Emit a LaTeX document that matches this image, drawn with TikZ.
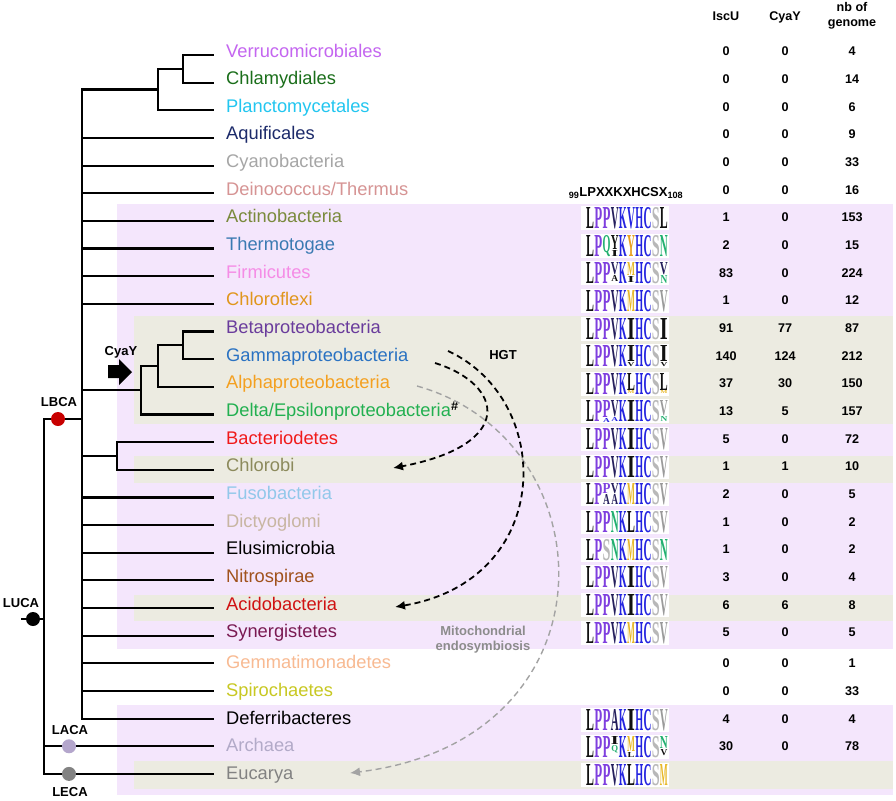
\documentclass[tikz,border=0pt]{standalone}
\usepackage{fontspec}
\usepackage{graphicx}
\setmainfont{Liberation Sans}
\newfontfamily\logofont{Liberation Serif}[BoldFont={* Bold}]
\usetikzlibrary{arrows.meta}
\definecolor{bglav}{HTML}{F4E6FC}
\definecolor{bgbei}{HTML}{ECEBE1}
\definecolor{cVer}{HTML}{C466F0}
\definecolor{cChl}{HTML}{1A6E1A}
\definecolor{cPla}{HTML}{22C6F0}
\definecolor{cAqu}{HTML}{1C2A6A}
\definecolor{cCya}{HTML}{A6A6A6}
\definecolor{cDei}{HTML}{D69494}
\definecolor{cAct}{HTML}{7A8A3C}
\definecolor{cThe}{HTML}{3A7AB2}
\definecolor{cFir}{HTML}{F48CE6}
\definecolor{cChf}{HTML}{E0961C}
\definecolor{cBet}{HTML}{6A3C9C}
\definecolor{cGam}{HTML}{2A72C2}
\definecolor{cAlp}{HTML}{F4A020}
\definecolor{cDel}{HTML}{22B050}
\definecolor{cBac}{HTML}{F01A1A}
\definecolor{cCho}{HTML}{8C8A5C}
\definecolor{cFus}{HTML}{92C8EA}
\definecolor{cDic}{HTML}{C8B6A2}
\definecolor{cElu}{HTML}{000000}
\definecolor{cNit}{HTML}{A0521C}
\definecolor{cAci}{HTML}{D01212}
\definecolor{cSyn}{HTML}{7A1A52}
\definecolor{cGem}{HTML}{F8BA92}
\definecolor{cSpi}{HTML}{C8C822}
\definecolor{cDef}{HTML}{000000}
\definecolor{cArc}{HTML}{B2AAC8}
\definecolor{cEuc}{HTML}{828282}
\definecolor{lck}{HTML}{111111}
\definecolor{lcp}{HTML}{7F3FDF}
\definecolor{lcd}{HTML}{241E5C}
\definecolor{lcb}{HTML}{2424E0}
\definecolor{lcg}{HTML}{B8B8B8}
\definecolor{lcv}{HTML}{9A9A9A}
\definecolor{lcn}{HTML}{22B070}
\definecolor{lcm}{HTML}{E8B828}
\definecolor{lcy}{HTML}{EAA020}
\definecolor{mitogray}{HTML}{8C8C8C}
\definecolor{dotlav}{HTML}{B4A6CC}
\definecolor{dotred}{HTML}{C80000}
\newcommand\logorow[3]{%
  \fill[white] (581,#2-11) rectangle (669,#2+13);
  \foreach \ch/\co/\hh [count=\k] in {#3} {
    \node[lgl, text=lc\co] (lg#1-\k) at ({590.1+8.2*(\k-1)},#2-9.5)
      {\resizebox{7.9pt}{\hh pt}{\logofont\bfseries \ch}};
  }%
}
\newcommand\lgextra[6]{% id, k, top y, height, letter, colour
  \node[lgl, text=lc#6] (lx#1-#2) at ({590.1+8.2*(#2-1)},#3)
    {\resizebox{6.8pt}{#4pt}{\logofont\bfseries #5}};
}
\begin{document}
\begin{tikzpicture}[x=1pt,y=-1pt,
  tx/.style={anchor=base west, inner sep=0pt, font=\fontsize{18.3}{20}\selectfont},
  num/.style={anchor=base, inner sep=0pt, font=\bfseries\fontsize{12.6}{14}\selectfont},
  lbl/.style={inner sep=0pt, font=\bfseries\fontsize{13}{15}\selectfont},
  br/.style={line width=2.2pt, line cap=rect, line join=miter},
  lgl/.style={anchor=north, inner sep=0pt, outer sep=0pt},
  dot/.style={circle, inner sep=0pt, minimum size=14pt},
  hgt/.style={line width=1.8pt, dash pattern=on 6pt off 4pt, -{Latex[length=10pt,width=9pt]}},
  mito/.style={line width=1.4pt, mitogray!80, dash pattern=on 6pt off 4pt, -{Latex[length=10pt,width=9pt]}}]
\useasboundingbox (0,0) rectangle (896,800);
\fill[white] (0,0) rectangle (896,800);
% background bands
\fill[bglav] (117,204) rectangle (893,649);
\fill[bglav] (117,705) rectangle (893,795);
\fill[bgbei] (134,316) rectangle (893,424);
\fill[bgbei] (134,456) rectangle (893,483);
\fill[bgbei] (134,595) rectangle (893,621);
\fill[bgbei] (134,761) rectangle (893,789);
% leaf coordinates
\foreach \i in {1,...,27} {\coordinate (leaf\i) at (213,{55+27.65*(\i-1)});}
\coordinate (bv) at (82,0);
\coordinate (luv) at (44,0);
% Verrucomicrobiales clade
\coordinate (n1) at (183,68.83);
\coordinate (n2) at (158,89.56);
\draw[br] (leaf1) -| (n1) |- (leaf2);
\draw[br] (n1) -| (n2) |- (leaf3);
\draw[br] (n2) -- (bv |- n2) -- (bv |- leaf25);
\foreach \i in {4,...,10,17,18,19,20,21,22,23,24,25} {\draw[br] (bv |- leaf\i) -- (leaf\i);}
% proteobacteria
\coordinate (n3) at (183,345.33);
\coordinate (n4) at (158,366.06);
\coordinate (n5) at (141,390.26);
\draw[br] (leaf11) -| (n3) |- (leaf12);
\draw[br] (n3) -| (n4) |- (leaf13);
\draw[br] (n4) -| (n5) |- (leaf14);
\draw[br] (n5) -- (bv |- n5);
% Bacteriodetes / Chlorobi
\coordinate (n6) at (117,455.93);
\draw[br] (leaf15) -| (n6) |- (leaf16);
\draw[br] (n6) -- (bv |- n6);
% root part
\coordinate (lb) at (58,419);
\coordinate (lu) at (33,619);
\draw[br] (bv |- lb) -- (luv |- lb) -- (luv |- leaf27) -- (leaf27);
\draw[br] (luv |- leaf26) -- (leaf26);
\draw[br] (22,619) -- (luv |- lu);
\node[dot, fill=dotred] (LBCAdot) at (lb) {};
\node[dot, fill=black] (LUCAdot) at (lu) {};
\node[dot, fill=dotlav] (LACAdot) at (69,746.25) {};
\node[dot, fill=cEuc] (LECAdot) at (69,773.9) {};
\node[lbl] (LBCA) at (59,402) {LBCA};
\node[lbl] (LUCA) at (21,603) {LUCA};
\node[lbl] (LACA) at (70,730) {LACA};
\node[lbl] (LECA) at (70,792) {LECA};
\node[lbl, anchor=base] (cyay) at (121,355) {CyaY};
\fill[black] (108,365) -- (119,365) -- (119,359) -- (132,372) -- (119,385) -- (119,378) -- (108,378) -- cycle;
% taxa
\foreach \nm/\co [count=\i] in {Verrucomicrobiales/cVer, Chlamydiales/cChl, Planctomycetales/cPla,
  Aquificales/cAqu, Cyanobacteria/cCya, {Deinococcus/Thermus}/cDei, Actinobacteria/cAct,
  Thermotogae/cThe, Firmicutes/cFir, Chloroflexi/cChf, Betaproteobacteria/cBet,
  Gammaproteobacteria/cGam, Alphaproteobacteria/cAlp, {Delta/Epsilonproteobacteria\textcolor{black}{\textsuperscript{\bfseries\#}}}/cDel,
  Bacteriodetes/cBac, Chlorobi/cCho, Fusobacteria/cFus, Dictyoglomi/cDic, Elusimicrobia/cElu,
  Nitrospirae/cNit, Acidobacteria/cAci, Synergistetes/cSyn, Gemmatimonadetes/cGem,
  Spirochaetes/cSpi, Deferribacteres/cDef, Archaea/cArc, Eucarya/cEuc} {
  \pgfmathsetmacro\yy{51+27.65*(\i-1)+(\i>22)*3.5+6}
  \node[tx, text=\co] (tax\i) at (226,\yy) {\nm};
}
% headers
\node[num] (hIscU) at (726,20.7) {IscU};
\node[num] (hCyaY) at (785,20.7) {CyaY};
\node[num] (hnb1) at (852,11.7) {nb of};
\node[num] (hnb2) at (852,26.7) {genome};
\node[lbl, anchor=base] (motif) at (626,196) {\textsubscript{99}LPXXKXHCSX\textsubscript{108}};
% numbers
\foreach \a/\b/\c [count=\i] in {0/0/4, 0/0/14, 0/0/6, 0/0/9, 0/0/33, 0/0/16, 1/0/153, 2/0/15,
  83/0/224, 1/0/12, 91/77/87, 140/124/212, 37/30/150, 13/5/157, 5/0/72, 1/1/10, 2/0/5, 1/0/2,
  1/0/2, 3/0/4, 6/6/8, 5/0/5, 0/0/1, 0/0/33, 4/0/4, 30/0/78} {
  \pgfmathsetmacro\yy{51+27.65*(\i-1)+(\i>22)*3.5+5}
  \node[num] (iscu\i) at (726,\yy) {\a};
  \node[num] (cyay\i) at (785,\yy) {\b};
  \node[num] (nbg\i) at (852,\yy) {\c};
}
% sequence logos
\logorow{7}{216.9}{L/k/21, P/p/21, P/p/21, V/d/21, K/b/21, V/b/21, H/b/21, C/b/21, S/g/21, L/k/21}
\logorow{8}{244.55}{L/k/21, P/p/21, Q/n/17, Y/k/14, K/b/21, Y/y/21, H/b/21, C/b/21, S/g/21, N/n/21}
\lgextra{8}{4}{250}{6}{I}{k}
\logorow{9}{272.2}{L/k/21, P/p/21, P/p/21, V/d/12, K/b/21, M/m/13, H/b/21, C/b/21, S/g/21, V/d/12}
\lgextra{9}{4}{275}{6}{A}{k}
\lgextra{9}{6}{276}{6}{I}{k}
\lgextra{9}{10}{275}{8}{N}{n}
\logorow{10}{299.85}{L/k/21, P/p/21, P/p/21, V/d/21, K/b/21, M/m/21, H/b/21, C/b/21, S/g/21, V/v/21}
\logorow{11}{327.5}{L/k/21, P/p/21, P/p/21, V/d/21, K/b/21, I/k/21, H/b/21, C/b/21, S/g/21, I/k/21}
\logorow{12}{355.15}{L/k/21, P/p/21, P/p/21, V/d/21, K/b/21, I/k/16, H/b/21, C/b/21, S/g/21, I/k/16}
\lgextra{12}{6}{362}{4}{V}{k}
\lgextra{12}{10}{362}{4}{V}{k}
\logorow{13}{382.8}{L/k/21, P/p/21, P/p/21, V/d/21, K/b/21, L/k/17, H/b/21, C/b/21, S/g/21, L/k/17}
\lgextra{13}{6}{390.5}{3}{M}{m}
\lgextra{13}{10}{390.5}{3}{M}{m}
\logorow{14}{410.45}{L/k/21, P/p/21, P/p/17, V/d/16, K/b/21, I/k/21, H/b/21, C/b/21, S/g/21, V/v/15}
\lgextra{14}{3}{418}{4}{A}{b}
\lgextra{14}{4}{417}{4}{A}{b}
\lgextra{14}{10}{416}{5}{N}{n}
\logorow{15}{438.1}{L/k/21, P/p/21, P/p/21, V/d/21, K/b/21, I/k/21, H/b/21, C/b/21, S/g/21, V/v/21}
\logorow{16}{465.75}{L/k/21, P/p/21, P/p/21, V/d/21, K/b/21, I/k/21, H/b/21, C/b/21, S/g/21, V/v/21}
\logorow{17}{493.4}{L/k/21, P/p/21, P/p/10, V/d/10, K/b/21, M/m/21, H/b/21, C/b/21, S/g/21, V/v/21}
\lgextra{17}{3}{494.5}{10}{A}{d}
\lgextra{17}{4}{494.5}{10}{A}{d}
\logorow{18}{521.05}{L/k/21, P/p/21, P/p/21, N/n/21, K/b/21, L/k/21, H/b/21, C/b/21, S/g/21, V/v/21}
\logorow{19}{548.7}{L/k/21, P/p/21, S/g/21, N/n/21, K/b/21, M/m/21, H/b/21, C/b/21, S/g/21, N/n/21}
\logorow{20}{576.35}{L/k/21, P/p/21, P/p/21, V/d/21, K/b/21, I/k/21, H/b/21, C/b/21, S/g/21, V/v/21}
\logorow{21}{604.0}{L/k/21, P/p/21, P/p/21, V/d/21, K/b/21, I/k/21, H/b/21, C/b/21, S/g/21, V/v/21}
\logorow{22}{631.65}{L/k/21, P/p/21, P/p/21, V/d/21, K/b/21, M/m/21, H/b/21, C/b/21, S/g/21, V/v/21}
\logorow{25}{718.6}{L/k/21, P/p/21, P/p/21, A/d/21, K/b/21, I/k/21, H/b/21, C/b/21, S/g/21, V/v/21}
\logorow{26}{746.25}{L/k/21, P/p/21, P/p/21, I/k/8, K/b/21, M/m/15, H/b/21, C/b/21, S/g/21, N/n/12}
\lgextra{26}{4}{745}{6}{Q}{n}
\lgextra{26}{6}{752}{5}{L}{k}
\lgextra{26}{10}{749}{6}{V}{k}
\logorow{27}{773.9}{L/k/21, P/p/21, P/p/21, V/d/21, K/b/21, L/k/21, H/b/21, C/b/21, S/g/21, M/m/21}
% HGT and endosymbiosis arrows
\coordinate (hgtA0) at (448,351);
\coordinate (hgtA1) at (395,607);
\coordinate (hgtB0) at (435,363);
\coordinate (hgtB1) at (393,468);
\coordinate (mito0) at (417,386);
\coordinate (mito1) at (350,773);
\draw[mito] (mito0) .. controls (610,440) and (620,740) .. (mito1);
\draw[hgt] (hgtA0) .. controls (555,400) and (555,580) .. (hgtA1);
\draw[hgt] (hgtB0) .. controls (505,385) and (515,445) .. (hgtB1);
\node[lbl, anchor=base] (hgt) at (503,359) {HGT};
\node[lbl, text=mitogray, align=center] (mitolbl) at (483,640) {Mitochondrial\\endosymbiosis};
\end{tikzpicture}
\end{document}
